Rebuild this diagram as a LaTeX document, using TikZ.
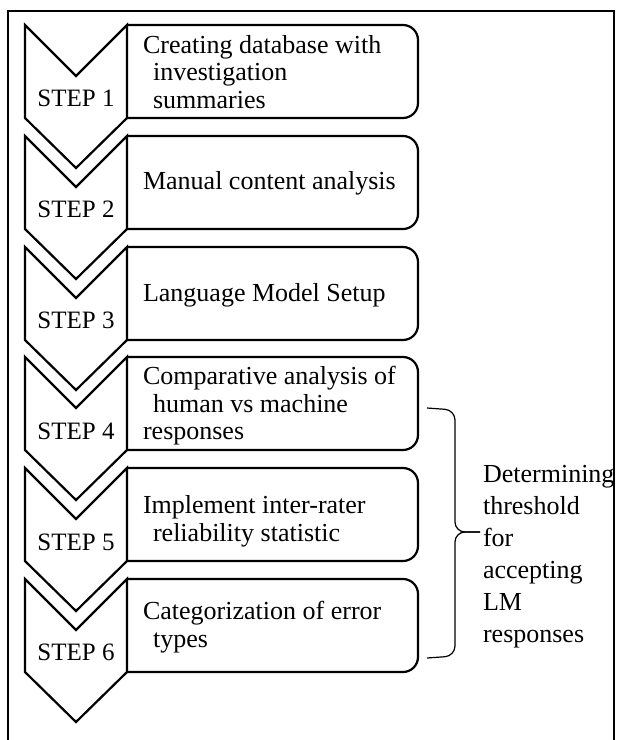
\documentclass[tikz,border=0pt]{standalone}
\usepackage{fontspec}
\setmainfont{Liberation Serif}
\tikzset{
    stepshape/.style={draw, line width=1.1pt, line join=miter},
    taskbox/.style={draw, line width=1.1pt, rounded corners=7.5pt},
    steplabel/.style={font=\fontsize{12.5}{14}\selectfont},
    tasktext/.style={anchor=west, align=left, font=\fontsize{13}{13.8}\selectfont},
}
\begin{document}
\begin{tikzpicture}[x=0.5pt, y=-0.5pt]
    \useasboundingbox (0,0) rectangle (617,740);

    % chevrons
    \draw[stepshape] (25,25) -- (76,76) -- (127,25) -- (127,118) -- (76,168) -- (25,118) -- cycle;
    \draw[stepshape] (25,136) -- (76,187) -- (127,136) -- (127,229) -- (76,279) -- (25,229) -- cycle;
    \draw[stepshape] (25,247) -- (76,298) -- (127,247) -- (127,340) -- (76,390) -- (25,340) -- cycle;
    \draw[stepshape] (25,357) -- (76,408) -- (127,357) -- (127,450) -- (76,500) -- (25,450) -- cycle;
    \draw[stepshape] (25,468) -- (76,519) -- (127,468) -- (127,561) -- (76,611) -- (25,561) -- cycle;
    \draw[stepshape] (25,579) -- (76,630) -- (127,579) -- (127,672) -- (76,722) -- (25,672) -- cycle;

    % boxes
    \draw[taskbox] (127,118) -- (418,118) -- (418,25) -- (127,25);
    \draw[taskbox] (127,229) -- (418,229) -- (418,136) -- (127,136);
    \draw[taskbox] (127,340) -- (418,340) -- (418,247) -- (127,247);
    \draw[taskbox] (127,450) -- (418,450) -- (418,357) -- (127,357);
    \draw[taskbox] (127,561) -- (418,561) -- (418,468) -- (127,468);
    \draw[taskbox] (127,672) -- (418,672) -- (418,579) -- (127,579);

    \node[steplabel] (s1) at (76,98) {STEP 1};
    \node[steplabel] (s2) at (76,209) {STEP 2};
    \node[steplabel] (s3) at (76,320) {STEP 3};
    \node[steplabel] (s4) at (76,431) {STEP 4};
    \node[steplabel] (s5) at (76,542) {STEP 5};
    \node[steplabel] (s6) at (76,652) {STEP 6};

    \node[tasktext] (t1) at (136,72) {Creating database with\\\hspace{5pt}investigation\\\hspace{5pt}summaries};
    \node[tasktext] (t2) at (136,183) {Manual content analysis};
    \node[tasktext] (t3) at (136,295) {Language Model Setup};
    \node[tasktext] (t4) at (136,406) {Comparative analysis of\\\hspace{5pt}human vs machine\\responses};
    \node[tasktext] (t5) at (136,521) {Implement inter-rater\\\hspace{5pt}reliability statistic};
    \node[tasktext] (t6) at (136,627) {Categorization of error\\\hspace{5pt}types};

    % brace
    \draw[line width=0.6pt, rounded corners=5pt] (427,408) -- (455,410) -- (455,532) -- (480,532);
    \draw[line width=0.6pt, rounded corners=5pt] (480,532) -- (455,532) -- (455,656) -- (427,658);
    \node[tasktext, font=\fontsize{13}{16}\selectfont] (thr) at (476,557) {Determining\\threshold\\for\\accepting\\LM\\responses};

    % frame
    \draw[line width=1.3pt] (8,740) -- (8,11) -- (614,11) -- (614,740);
\end{tikzpicture}
\end{document}
